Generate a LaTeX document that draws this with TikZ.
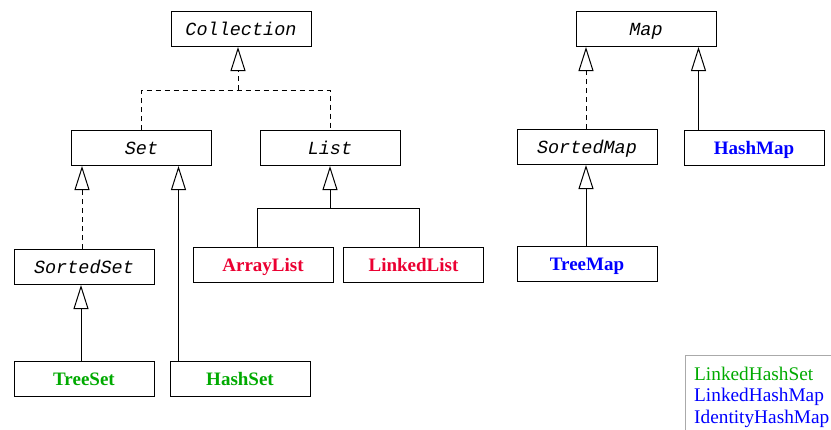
\documentclass[tikz,border=0pt]{standalone}
\usepackage{fontspec}
\setmainfont{Liberation Serif}
\newfontfamily\ifacefont{Liberation Mono}
\usetikzlibrary{arrows.meta}
\definecolor{clsgreen}{RGB}{0,170,0}
\definecolor{clsred}{RGB}{235,0,50}
\definecolor{clsblue}{RGB}{0,0,255}
\definecolor{legendgray}{RGB}{170,170,170}
\tikzset{
  x=1pt, y=-1pt,
  box/.style={draw, line width=1pt, minimum width=140pt, minimum height=35pt,
              inner sep=0pt, anchor=center, fill=white,
              text height=15pt, text depth=3pt},
  iface/.style={box, font=\fontsize{18.5}{22}\selectfont\ifacefont\itshape},
  cls/.style={box, font=\fontsize{19}{22}\selectfont\bfseries},
  link/.style={line width=1pt},
  dlink/.style={link, dash pattern=on 5pt off 4pt},
  inherit/.style={-{Triangle[open, length=24pt, width=15pt, line width=1pt]}},
  legend/.style={anchor=west, inner sep=0pt, font=\fontsize{19.3}{22}\selectfont}
}
\begin{document}
\begin{tikzpicture}
  \useasboundingbox (0,0) rectangle (831,429);

  % interfaces
  \node[iface] (coll) at (241,29)   {Collection};
  \node[iface] (set)  at (141.5,148) {Set};
  \node[iface] (list) at (330,148)  {List};
  \node[iface] (sset) at (84,267)   {SortedSet};
  \node[iface] (map)  at (646,29)   {Map};
  \node[iface] (smap) at (587,147)  {SortedMap};

  % implementations
  \node[cls, text=clsred]   (alist) at (263,265)   {ArrayList};
  \node[cls, text=clsred]   (llist) at (413.5,265) {LinkedList};
  \node[cls, text=clsgreen] (tset)  at (84,379)    {TreeSet};
  \node[cls, text=clsgreen] (hset)  at (240,379)   {HashSet};
  \node[cls, text=clsblue]  (hmap)  at (754,148)   {HashMap};
  \node[cls, text=clsblue]  (tmap)  at (587,264)   {TreeMap};

  % junction points of the shared connectors
  \coordinate (cj) at (238,90);
  \coordinate (lj) at (330,208);

  % Set and List extend Collection
  \draw[dlink] (set.north) -- (set.north |- cj) -- (list.north |- cj) -- (list.north);
  \draw[dlink, inherit] (cj) -- (cj |- coll.south);

  % SortedSet and HashSet under Set
  \draw[dlink, inherit] ([xshift=-2pt]sset.north) -- ([xshift=-2pt]sset.north |- set.south);
  \draw[link, inherit] ([xshift=9pt]hset.north west) -- ([xshift=9pt]hset.north west |- set.south);
  \draw[link, inherit] ([xshift=-3pt]tset.north) -- ([xshift=-3pt]tset.north |- sset.south);

  % ArrayList and LinkedList under List
  \draw[link] ([xshift=-6pt]alist.north) -- ([xshift=-6pt]alist.north |- lj)
              -- ([xshift=5.5pt]llist.north |- lj) -- ([xshift=5.5pt]llist.north);
  \draw[link, inherit] (lj) -- (lj |- list.south);

  % Map hierarchy
  \draw[dlink, inherit] ([xshift=-1pt]smap.north) -- ([xshift=-1pt]smap.north |- map.south);
  \draw[link, inherit] ([xshift=15pt]hmap.north west) -- ([xshift=15pt]hmap.north west |- map.south);
  \draw[link, inherit] ([xshift=-1pt]tmap.north) -- ([xshift=-1pt]tmap.north |- smap.south);

  % legend of further classes
  \node[draw=legendgray, line width=0.8pt, minimum width=160pt, minimum height=90pt,
        anchor=north west] (legbox) at (685,355) {};
  \node[legend, text=clsgreen] (l1) at (694,374) {LinkedHashSet};
  \node[legend, text=clsblue]  (l2) at (694,397) {LinkedHashMap};
  \node[legend, text=clsblue]  (l3) at (694,419) {IdentityHashMap};
\end{tikzpicture}
\end{document}
